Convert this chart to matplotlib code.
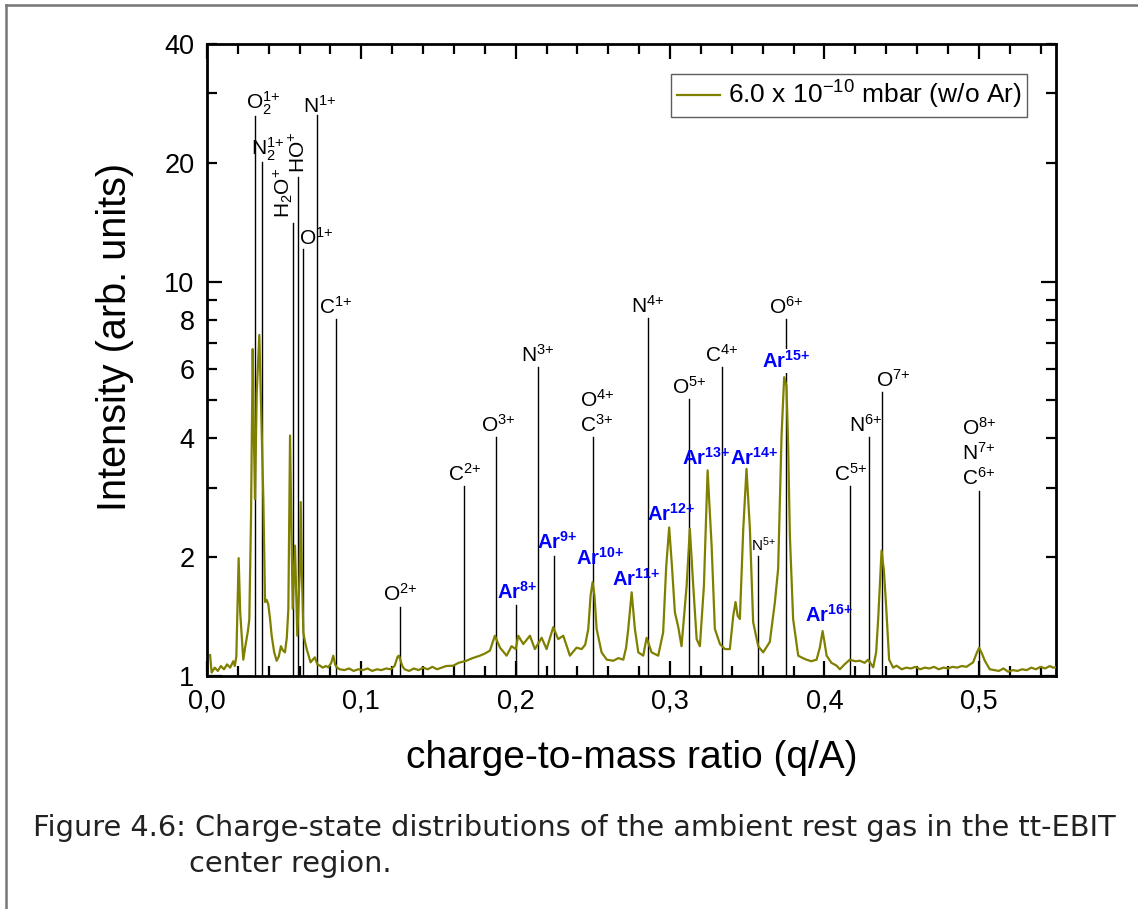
import matplotlib
matplotlib.use("Agg")
import matplotlib.pyplot as plt
from matplotlib.lines import Line2D
from matplotlib.ticker import FixedLocator, FuncFormatter
from matplotlib import font_manager

plt.rcParams['font.family'] = ['Liberation Sans', 'DejaVu Sans']
plt.rcParams['mathtext.default'] = 'regular'

# ---------------- data ----------------
qa = [0.002, 0.003, 0.005, 0.007, 0.009, 0.011, 0.013, 0.015, 0.017, 0.018, 0.019,
      0.0205, 0.0215, 0.023, 0.0235, 0.025, 0.0265, 0.0274, 0.0285, 0.0296, 0.0304,
      0.0311, 0.0322, 0.0339, 0.0352, 0.0365, 0.0376, 0.0386, 0.0397, 0.0408, 0.0419,
      0.0435, 0.0451, 0.0465, 0.0479, 0.0492, 0.0505, 0.0517, 0.0527, 0.0538, 0.0546,
      0.0555, 0.0570, 0.0585, 0.0600, 0.0607, 0.0615, 0.0624, 0.0635, 0.0646, 0.0660,
      0.0671, 0.0685, 0.0699, 0.0715, 0.0732, 0.0750, 0.0770, 0.0786, 0.0805, 0.0818,
      0.0830, 0.0840, 0.086, 0.089, 0.092, 0.095, 0.098, 0.101, 0.104, 0.107, 0.110,
      0.113, 0.116, 0.119, 0.1215, 0.1235, 0.1244, 0.1265, 0.128, 0.131, 0.134, 0.137,
      0.140, 0.143, 0.146, 0.149, 0.152, 0.155, 0.1595, 0.163, 0.168, 0.172, 0.1768,
      0.180, 0.1833, 0.1865, 0.1898, 0.1941, 0.1973, 0.2000, 0.2016, 0.2049, 0.2092,
      0.2124, 0.2168, 0.2200, 0.2243, 0.2275, 0.2308, 0.2351, 0.2394, 0.2427, 0.2450,
      0.2470, 0.2485, 0.2498, 0.2510, 0.2524, 0.2556, 0.2590, 0.2632, 0.2665, 0.2697,
      0.2715, 0.2729, 0.2751, 0.2772, 0.2794, 0.2826, 0.2848, 0.2880, 0.2923, 0.2955,
      0.2975, 0.2994, 0.3012, 0.3031, 0.3053, 0.3074, 0.3107, 0.3128, 0.3150, 0.3172,
      0.3193, 0.3219, 0.3243, 0.3269, 0.3290, 0.3323, 0.3355, 0.3387, 0.3409, 0.3424,
      0.3438, 0.3452, 0.3474, 0.3495, 0.3517, 0.3538, 0.3571, 0.3603, 0.3646, 0.3679,
      0.3700, 0.3722, 0.3739, 0.3754, 0.3765, 0.3776, 0.3797, 0.3830, 0.3860, 0.3884,
      0.3915, 0.3949, 0.3970, 0.3988, 0.4000, 0.4014, 0.4045, 0.4079, 0.410, 0.413,
      0.4164, 0.420, 0.4229, 0.426, 0.4283, 0.4316, 0.4335, 0.4348, 0.4370, 0.4385,
      0.4398, 0.4419, 0.4445, 0.4467, 0.450, 0.453, 0.456, 0.459, 0.462, 0.465, 0.468,
      0.471, 0.474, 0.477, 0.480, 0.483, 0.486, 0.489, 0.492, 0.4963, 0.4985, 0.5002,
      0.5020, 0.5039, 0.5071, 0.510, 0.513, 0.516, 0.519, 0.522, 0.525, 0.528, 0.531,
      0.534, 0.537, 0.540, 0.543, 0.546, 0.548, 0.550]
intensity = [1.13, 1.02, 1.05, 1.03, 1.06, 1.04, 1.07, 1.05, 1.09, 1.06, 1.12,
             1.99, 1.45, 1.18, 1.10, 1.20, 1.30, 1.39, 2.5, 6.74, 4.0,
             2.81, 5.2, 7.32, 4.5, 2.81, 1.54, 1.56, 1.52, 1.40, 1.265,
             1.15, 1.093, 1.12, 1.19, 1.16, 1.148, 1.25, 1.48, 4.07, 2.5,
             1.48, 2.14, 1.265, 1.8, 2.76, 1.8, 1.29, 1.22, 1.17, 1.12,
             1.083, 1.10, 1.115, 1.07, 1.062, 1.05, 1.06, 1.052, 1.08, 1.126,
             1.07, 1.052, 1.04, 1.035, 1.045, 1.03, 1.04, 1.035, 1.045, 1.03, 1.04,
             1.035, 1.045, 1.04, 1.06, 1.12, 1.126, 1.06, 1.04, 1.03, 1.045, 1.035,
             1.05, 1.04, 1.055, 1.04, 1.05, 1.06, 1.062, 1.08, 1.093, 1.11, 1.126,
             1.14, 1.16, 1.265, 1.18, 1.126, 1.19, 1.17, 1.265, 1.205, 1.265,
             1.17, 1.25, 1.17, 1.33, 1.24, 1.265, 1.126, 1.18, 1.17, 1.20,
             1.316, 1.60, 1.73, 1.60, 1.316, 1.148, 1.10, 1.093, 1.11, 1.10,
             1.18, 1.316, 1.63, 1.316, 1.148, 1.126, 1.25, 1.148, 1.126, 1.29,
             1.9, 2.38, 1.9, 1.45, 1.33, 1.19, 1.69, 2.36, 1.69, 1.24,
             1.19, 1.69, 3.32, 2.14, 1.316, 1.205, 1.17, 1.17, 1.42, 1.54,
             1.42, 1.395, 2.36, 3.35, 2.36, 1.37, 1.19, 1.148, 1.22, 1.54,
             1.87, 4.07, 5.72, 5.44, 3.8, 2.27, 1.395, 1.126, 1.11, 1.10,
             1.09, 1.10, 1.18, 1.30, 1.22, 1.126, 1.08, 1.062, 1.04, 1.07,
             1.10, 1.09, 1.093, 1.08, 1.10, 1.052, 1.15, 1.395, 2.08, 1.85,
             1.54, 1.10, 1.05, 1.062, 1.04, 1.05, 1.045, 1.055, 1.04, 1.05, 1.045,
             1.055, 1.04, 1.05, 1.045, 1.055, 1.05, 1.06, 1.055, 1.083, 1.14, 1.18,
             1.14, 1.093, 1.04, 1.035, 1.03, 1.045, 1.025, 1.035, 1.03, 1.04, 1.035,
             1.05, 1.04, 1.055, 1.045, 1.06, 1.05, 1.052]
series_label = "6.0 x 10$^{-10}$ mbar (w/o Ar)"

# rest-gas ion markers: label, q/A, marker-line top
ion_labels = ["O$_2^{1{+}}$", "N$_2^{1{+}}$", "O$^{1{+}}$", "N$^{1{+}}$", "C$^{1{+}}$",
              "O$^{2{+}}$", "C$^{2{+}}$", "O$^{3{+}}$", "N$^{3{+}}$", "O$^{4{+}}$\nC$^{3{+}}$",
              "N$^{4{+}}$", "O$^{5{+}}$", "C$^{4{+}}$", "O$^{6{+}}$", "C$^{5{+}}$",
              "N$^{6{+}}$", "O$^{7{+}}$", "O$^{8{+}}$\nN$^{7{+}}$\nC$^{6{+}}$"]
ion_qa = [1/32, 1/28, 1/16, 1/14, 1/12, 2/16, 2/12, 3/16, 3/14, 4/16,
          4/14, 5/16, 4/12, 6/16, 5/12, 6/14, 7/16, 8/16]
ion_top = [26.3, 20.1, 12.1, 26.4, 8.04, 1.50, 3.03, 4.03, 6.06, 4.03,
           8.07, 5.04, 6.06, 8.04, 3.03, 4.03, 5.24, 2.95]

# rotated molecular-ion markers
mol_labels = ["H$_2$O$^{{+}}$", "HO$^{{+}}$"]
mol_qa = [1/18, 1/17]
mol_top = [14.1, 18.4]

# small N5+ marker
n5_label = "N$^{5{+}}$"
n5_qa = 5/14
n5_top = 2.01

# argon charge states (q/A = q/40) and label anchor heights
ar_labels = ["Ar$^{8{+}}$", "Ar$^{9{+}}$", "Ar$^{10{+}}$", "Ar$^{11{+}}$", "Ar$^{12{+}}$",
             "Ar$^{13{+}}$", "Ar$^{14{+}}$", "Ar$^{15{+}}$", "Ar$^{16{+}}$"]
ar_qa = [8/40, 9/40, 10/40, 11/40, 12/40, 13/40, 14/40, 15/40, 16/40]
ar_anchor = [1.51, 2.02, 1.84, 1.63, 2.38, 3.30, 3.30, 5.80, 1.32]
ar_line = [True, True, False, False, False, False, False, False, False]

x_ticks = [0.0, 0.1, 0.2, 0.3, 0.4, 0.5]
y_label_ticks = [1, 2, 4, 6, 8, 10, 20, 40]

# ---------------- figure ----------------
W, H = 1138, 909
fig = plt.figure(figsize=(W / 100, H / 100), dpi=100)
ax = fig.add_axes([207 / W, 1 - 676 / H, 849 / W, 632 / H])

line_color = '#808000'
ax.plot(qa, intensity, color=line_color, lw=1.6, label=series_label, zorder=3)

ax.set_yscale('log')
ax.set_xlim(0, 0.55)
ax.set_ylim(1, 40)

# marker lines
for x, top in zip(ion_qa, ion_top):
    ax.plot([x, x], [1, top], color='black', lw=1.0, zorder=2)
for x, top in zip(mol_qa, mol_top):
    ax.plot([x, x], [1, top], color='black', lw=1.0, zorder=2)
ax.plot([n5_qa, n5_qa], [1, n5_top], color='black', lw=1.0, zorder=2)
for x, top, has in zip(ar_qa, ar_anchor, ar_line):
    if has:
        ax.plot([x, x], [1, top], color='black', lw=1.0, zorder=2)

# label offsets in points (placement only)
ion_dx = [6, 4, 9, 2, 0, 0, 0, 1, 0, 3, 0, 0, 0, 0, 0, -2, 8, 0]
ion_dy = [-1, -1, 0, -1, 1, 1, 1, 1, 1, 1, 1, 1, 1, 1, 1, 1, 1, 1]
lab_fs = 15
for lab, x, top, dx, dy in zip(ion_labels, ion_qa, ion_top, ion_dx, ion_dy):
    ax.annotate(lab, (x, top), xytext=(dx, dy), textcoords='offset points',
                ha='center', va='bottom', fontsize=lab_fs, linespacing=1.2,
                zorder=5)
mol_dx = [-7, 0.5]
for lab, x, top, dx in zip(mol_labels, mol_qa, mol_top, mol_dx):
    ax.annotate(lab, (x, top), xytext=(dx, 3), textcoords='offset points',
                ha='center', va='bottom', fontsize=lab_fs, rotation=90, zorder=5)
ax.annotate(n5_label, (n5_qa, n5_top), xytext=(4, 2), textcoords='offset points',
            ha='center', va='bottom', fontsize=11, zorder=5)

ar_dx = [1, 2, 5, 3, 1, -2, 5, 0, 3]
for lab, x, top, dx in zip(ar_labels, ar_qa, ar_anchor, ar_dx):
    ax.annotate(lab, (x, top), xytext=(dx, 2), textcoords='offset points',
                ha='center', va='bottom', fontsize=14.5, color='#0000ff',
                fontweight='bold', zorder=6,
                bbox=dict(boxstyle='square,pad=0.05', fc='white', ec='none')
                if lab == "Ar$^{15{+}}$" else None)

# ticks
ax.xaxis.set_major_locator(FixedLocator(x_ticks))
ax.xaxis.set_minor_locator(FixedLocator([0.02, 0.04, 0.06, 0.08, 0.12, 0.14, 0.16, 0.18,
                                          0.22, 0.24, 0.26, 0.28, 0.32, 0.34, 0.36, 0.38,
                                          0.42, 0.44, 0.46, 0.48, 0.52, 0.54]))
ax.xaxis.set_major_formatter(FuncFormatter(lambda v, p: f"{v:.1f}".replace('.', ',')))

ax.yaxis.set_major_locator(FixedLocator([1, 10]))
ax.yaxis.set_minor_locator(FixedLocator([2, 3, 4, 5, 6, 7, 8, 9, 20, 30, 40]))
ax.yaxis.set_major_formatter(FuncFormatter(lambda v, p: f"{int(round(v))}"))
ax.yaxis.set_minor_formatter(FuncFormatter(
    lambda v, p: f"{int(round(v))}" if int(round(v)) in y_label_ticks else ""))

ax.tick_params(which='both', direction='in', top=True, right=True,
               labelsize=19.5, width=1.6, pad=9)
ax.tick_params(which='major', length=11)
ax.tick_params(which='minor', length=7)
ax.tick_params(axis='x', which='both', pad=9)
for s in ax.spines.values():
    s.set_linewidth(2.0)

ax.set_xlabel("charge-to-mass ratio (q/A)", fontsize=28, labelpad=18)
ax.set_ylabel("Intensity (arb. units)", fontsize=28.5, labelpad=22)
ax.yaxis.label.set_y(0.536)

leg = ax.legend(loc='upper right', bbox_to_anchor=(1 - 29 / 849, 1 - 30 / 632),
                fontsize=19, frameon=True, fancybox=False, handlelength=1.65,
                borderpad=0.2, handletextpad=0.3, borderaxespad=0)
leg.get_frame().set_edgecolor('#333333')
leg.get_frame().set_linewidth(1.0)

# page border (top and left)
fig.add_artist(Line2D([6 / W, 1], [1 - 5 / H, 1 - 5 / H], color='#777777', lw=1.8))
fig.add_artist(Line2D([6 / W, 6 / W], [0, 1 - 5 / H], color='#777777', lw=1.8))

# caption
available = {f.name for f in font_manager.fontManager.ttflist}
cap_family = 'Liberation Sans Narrow' if 'Liberation Sans Narrow' in available else 'DejaVu Sans'
line1 = "Figure 4.6: Charge-state distributions of the ambient rest gas in the tt-EBIT"
line2 = "center region."
t1 = fig.text(33 / W, 1 - 828 / H, line1, fontsize=20, family=cap_family,
              ha='left', va='center', color='#222222')
t2 = fig.text(189 / W, 1 - 864 / H, line2, fontsize=20, family=cap_family,
              ha='left', va='center', color='#222222')
fig.canvas.draw()
r = fig.canvas.get_renderer()
w1 = t1.get_window_extent(r).width
fs = 20 * (1079 / w1)
t1.set_fontsize(fs)
t2.set_fontsize(fs)

fig.savefig("out.png", dpi=100)
